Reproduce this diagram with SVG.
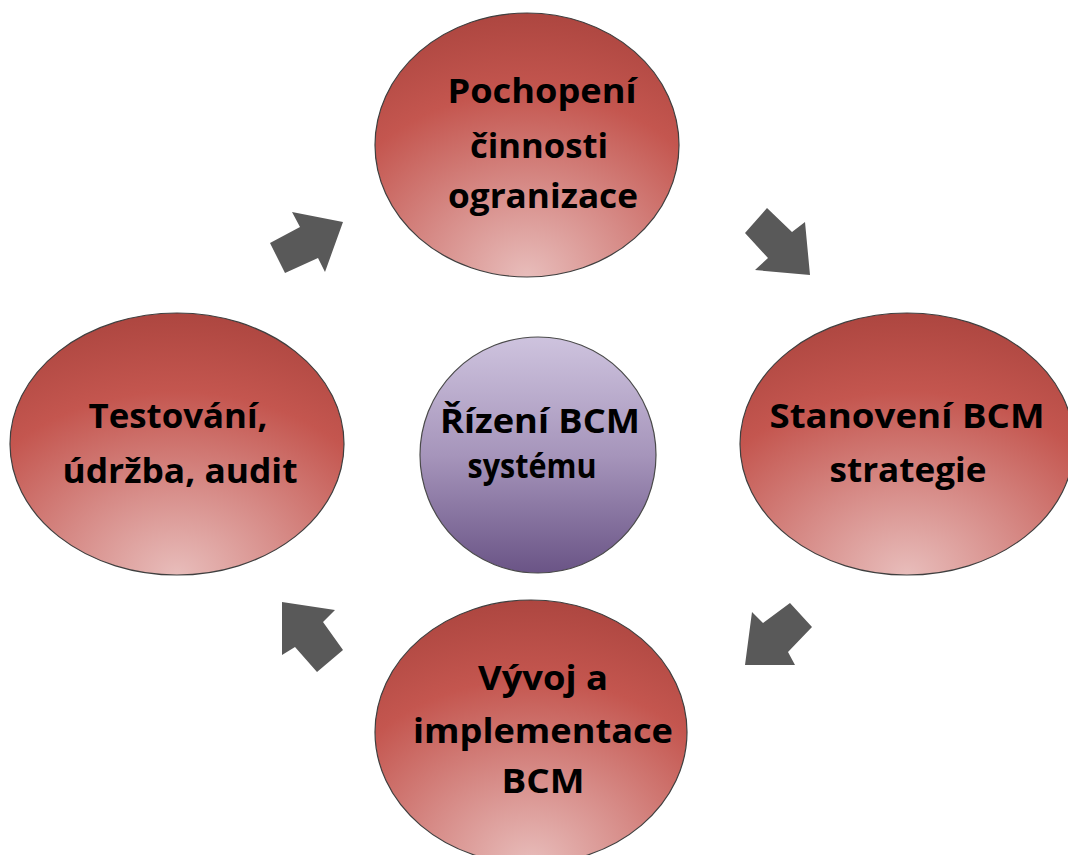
<svg xmlns="http://www.w3.org/2000/svg" width="1068" height="855" viewBox="0 0 1068 855">
<defs>
<radialGradient id="red" cx="50%" cy="100%" r="100%" fx="50%" fy="100%">
<stop offset="0" stop-color="#e8bdbb"/>
<stop offset="0.35" stop-color="#d68a86"/>
<stop offset="0.7" stop-color="#c4564f"/>
<stop offset="1" stop-color="#ad4640"/>
</radialGradient>
<linearGradient id="purple" x1="0" y1="0" x2="0" y2="1">
<stop offset="0" stop-color="#cec3de"/>
<stop offset="0.5" stop-color="#a695bb"/>
<stop offset="1" stop-color="#6a5486"/>
</linearGradient>
</defs>
<style>
.red{fill:url(#red);stroke:#3f3f3f;stroke-width:1.2}
.pur{fill:url(#purple);stroke:#4a4a4a;stroke-width:1.2}
.t{font-family:"Open Sans","Liberation Sans",sans-serif;font-weight:bold;font-size:34px;fill:#000;text-anchor:middle}
.arr{fill:#595959}
</style>
<rect width="1068" height="855" fill="#fff"/>
<g id="connectors">
<polygon class="arr" points="270,243 300,227 292,212 343,222 325,272 318,258 285,273"/>
<polygon class="arr" points="745,233 767,208 792,232 805,222 810,275 755,270 768,258"/>
<polygon class="arr" points="790,603 812,627 788,652 795,665 745,665 752,612 763,623"/>
<polygon class="arr" points="282,602 335,610 323,622 343,650 317,672 295,647 282,655"/>
</g>
<g id="node-top">
<ellipse class="red" cx="527" cy="145" rx="152" ry="132"/>
<text class="t" x="542" y="103" textLength="189" lengthAdjust="spacingAndGlyphs">Pochopení</text>
<text class="t" x="539" y="158" textLength="138" lengthAdjust="spacingAndGlyphs">činnosti</text>
<text class="t" x="543" y="208" textLength="190" lengthAdjust="spacingAndGlyphs">ogranizace</text>
</g>
<g id="node-right">
<ellipse class="red" cx="907" cy="444" rx="167" ry="131"/>
<text class="t" x="907" y="428" textLength="275" lengthAdjust="spacingAndGlyphs">Stanovení BCM</text>
<text class="t" x="908" y="482" textLength="157" lengthAdjust="spacingAndGlyphs">strategie</text>
</g>
<g id="node-bottom">
<ellipse class="red" cx="531" cy="732" rx="156" ry="132"/>
<text class="t" x="543" y="690" textLength="130" lengthAdjust="spacingAndGlyphs">Vývoj a</text>
<text class="t" x="543" y="743" textLength="260" lengthAdjust="spacingAndGlyphs">implementace</text>
<text class="t" x="543" y="793" textLength="83" lengthAdjust="spacingAndGlyphs">BCM</text>
</g>
<g id="node-left">
<ellipse class="red" cx="177" cy="444" rx="167" ry="131"/>
<text class="t" x="178" y="428" textLength="179" lengthAdjust="spacingAndGlyphs">Testování,</text>
<text class="t" x="180" y="483" textLength="235" lengthAdjust="spacingAndGlyphs">údržba, audit</text>
</g>
<g id="node-center">
<circle class="pur" cx="538" cy="455" r="118"/>
<text class="t" x="540" y="433" textLength="200" lengthAdjust="spacingAndGlyphs">Řízení BCM</text>
<text class="t" x="532" y="478" textLength="129" lengthAdjust="spacingAndGlyphs">systému</text>
</g>
</svg>
